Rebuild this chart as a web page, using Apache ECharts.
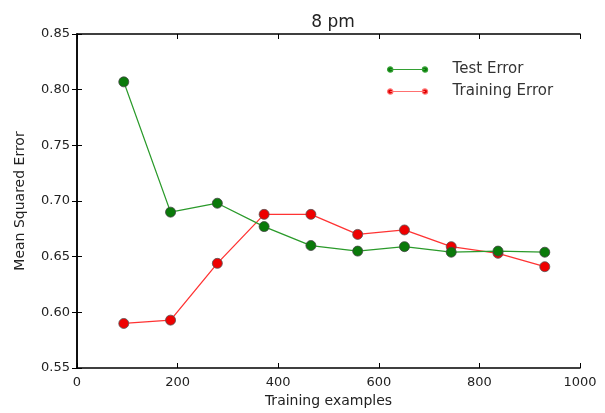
<!DOCTYPE html>
<html><head><meta charset="utf-8">
<script src="https://cdn.jsdelivr.net/npm/echarts@6/dist/echarts.min.js"></script>
<style>html,body{margin:0;padding:0;background:#fff}#c{width:605px;height:413px}</style>
</head><body><div id="c"></div>
<script>
const xValues = [93, 186, 279, 372, 465, 558, 651, 744, 837, 930];
const testError = [0.807, 0.690, 0.698, 0.677, 0.660, 0.655, 0.659, 0.654, 0.655, 0.654];
const trainError = [0.590, 0.593, 0.644, 0.688, 0.688, 0.670, 0.674, 0.659, 0.653, 0.641];
const xTicks = [0, 200, 400, 600, 800, 1000];
const yTicks = [0.55, 0.60, 0.65, 0.70, 0.75, 0.80, 0.85];

const font = 'DejaVu Sans';
const legendIcon = 'path://M0,5 L40,5 M0,5 m-3,0 a3,3 0 1,0 6,0 a3,3 0 1,0 -6,0 M40,5 m-3,0 a3,3 0 1,0 6,0 a3,3 0 1,0 -6,0';
const chart = echarts.init(document.getElementById('c'));
const axisLine = {show: true, lineStyle: {color: '#000', width: 1.5}};
const xBase = {type: 'value', min: xTicks[0], max: xTicks[xTicks.length-1], interval: 200,
  splitLine: {show: false}, axisLine: axisLine,
  axisTick: {show: true, inside: true, length: 5, lineStyle: {color: '#000'}}};
const yBase = {type: 'value', min: yTicks[0], max: yTicks[yTicks.length-1], interval: 0.05,
  splitLine: {show: false}, axisLine: axisLine,
  axisTick: {show: true, inside: true, length: 5, lineStyle: {color: '#000'}}};
function mk(xs, ys){ return xs.map((x,i)=>[x, ys[i]]); }
chart.setOption({
  animation: false,
  title: {text: '8 pm', left: 328, top: 7, textAlign: 'center',
    textStyle: {fontFamily: font, fontSize: 17, fontWeight: 'normal', color: '#222', lineHeight: 22}},
  grid: {left: 77, top: 34, right: 25, bottom: 44},
  legend: {
    orient: 'vertical', left: 382, top: 57, itemGap: 7, itemWidth: 40, itemHeight: 6,
    textStyle: {fontFamily: font, fontSize: 15, lineHeight: 15, color: '#333', padding: [0,0,0,20]},
    data: [
      {name: 'Test Error', icon: legendIcon, itemStyle: {color: '#0a7a0a', borderColor: '#33a033', borderWidth: 1.2}},
      {name: 'Training Error', icon: legendIcon, itemStyle: {color: '#e00000', borderColor: '#ff7070', borderWidth: 1.2}}
    ]
  },
  xAxis: [
    Object.assign({}, xBase, {position: 'bottom', name: 'Training examples', nameLocation: 'middle', nameGap: 26,
      nameTextStyle: {fontFamily: font, fontSize: 14, color: '#222'},
      axisLabel: {fontFamily: font, fontSize: 13, color: '#222', margin: 8, formatter: v => String(v)}}),
    Object.assign({}, xBase, {position: 'top', axisLabel: {show: false}})
  ],
  yAxis: [
    Object.assign({}, yBase, {position: 'left', name: 'Mean Squared Error', nameLocation: 'middle', nameGap: 50,
      nameTextStyle: {fontFamily: font, fontSize: 14, color: '#222'},
      axisLabel: {fontFamily: font, fontSize: 13, color: '#222', margin: 7, formatter: v => v.toFixed(2)}}),
    Object.assign({}, yBase, {position: 'right', axisLabel: {show: false}})
  ],
  series: [
    {name: 'Training Error', type: 'line', data: mk(xValues, trainError), z: 2,
      symbol: 'circle', symbolSize: 10,
      lineStyle: {color: '#ff3333', width: 1.3},
      itemStyle: {color: '#ee0000', borderColor: '#555', borderWidth: 0.8}},
    {name: 'Test Error', type: 'line', data: mk(xValues, testError), z: 3,
      symbol: 'circle', symbolSize: 10,
      lineStyle: {color: '#2a9a2a', width: 1.3},
      itemStyle: {color: '#0a7a0a', borderColor: '#444', borderWidth: 0.8}}
  ]
});
</script></body></html>
